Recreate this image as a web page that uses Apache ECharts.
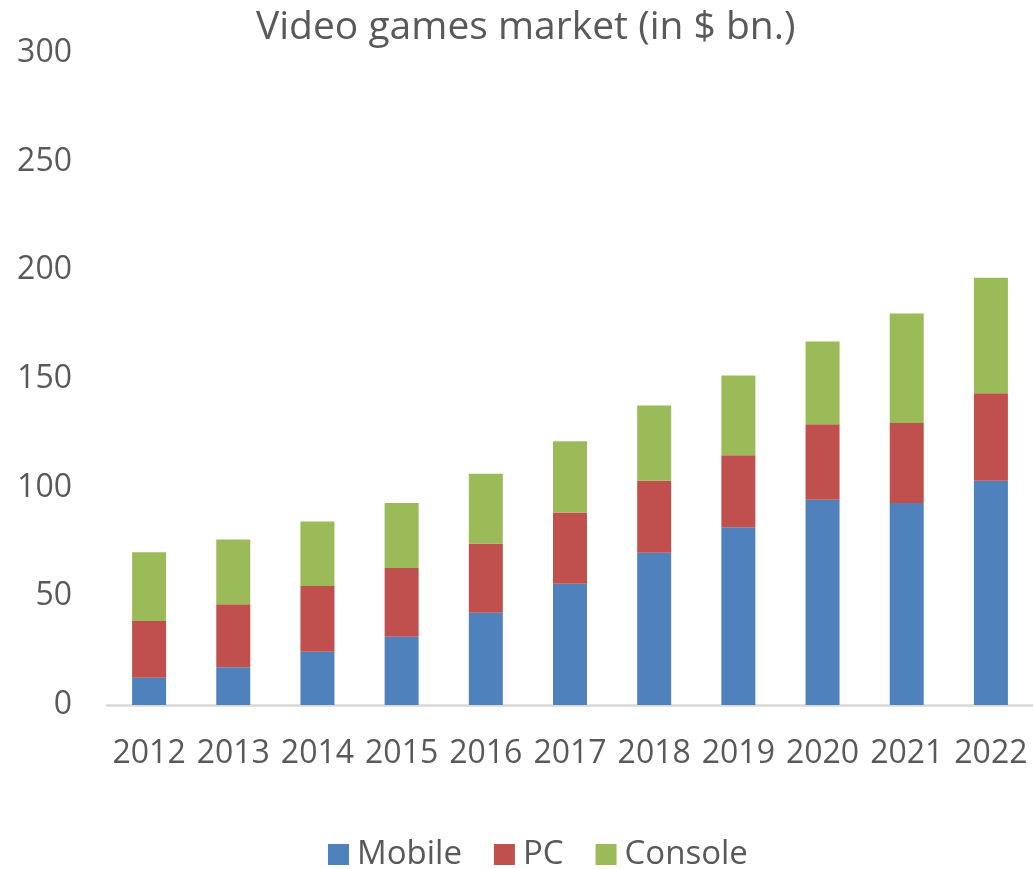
<!DOCTYPE html>
<html>
<head>
<meta charset="utf-8">
<script src="https://cdn.jsdelivr.net/npm/echarts@6/dist/echarts.min.js"></script>
<style>
  html, body { margin: 0; padding: 0; background: #ffffff; }
  #chart { width: 1033px; height: 869px; }
</style>
</head>
<body>
<div id="chart"></div>
<script>
// Video games market revenue by platform, $ bn.
const years = ['2012', '2013', '2014', '2015', '2016', '2017', '2018', '2019', '2020', '2021', '2022'];
const mobile = [12.5, 17.4, 24.5, 31.4, 42.4, 55.8, 70.0, 81.8, 94.4, 92.9, 103.2];
const pc = [26.1, 29.0, 30.3, 31.6, 31.9, 32.8, 33.2, 33.1, 34.8, 36.8, 40.3];
const consoleGames = [31.7, 29.8, 29.6, 30.0, 32.1, 32.8, 34.6, 36.7, 38.1, 50.4, 53.1];
const yTicks = { min: 0, max: 300, interval: 50 };

const fontFamily = '"Open Sans", "Noto Sans", sans-serif';
const textColor = '#595959';

const chart = echarts.init(document.getElementById('chart'), null, { renderer: 'canvas' });

function barSeries(name, data, color) {
  return {
    name: name,
    type: 'bar',
    stack: 'total',
    data: data,
    barWidth: 34,
    itemStyle: { color: color },
    emphasis: { disabled: true }
  };
}

chart.setOption({
  animation: false,
  backgroundColor: '#ffffff',
  title: {
    text: 'Video games market (in $ bn.)',
    left: 256,
    top: 8,
    padding: 0,
    textStyle: { fontFamily: fontFamily, fontSize: 39, fontWeight: 'normal', color: textColor }
  },
  legend: {
    left: 328,
    top: 838,
    padding: 0,
    icon: 'rect',
    itemWidth: 21,
    itemHeight: 21,
    itemGap: 32,
    textStyle: { fontFamily: fontFamily, fontSize: 33, color: textColor, padding: [0, 0, 0, 3] },
    data: ['Mobile', 'PC', 'Console']
  },
  grid: { left: 107, right: 0, top: 53, bottom: 164, containLabel: false },
  xAxis: {
    type: 'category',
    data: years,
    axisLine: { show: true, lineStyle: { color: '#d9d9d9', width: 2.5 } },
    axisTick: { show: false },
    axisLabel: { interval: 0, fontFamily: fontFamily, fontSize: 32, color: textColor, margin: 33 }
  },
  yAxis: {
    type: 'value',
    min: yTicks.min,
    max: yTicks.max,
    interval: yTicks.interval,
    axisLine: { show: false },
    axisTick: { show: false },
    splitLine: { show: false },
    axisLabel: { fontFamily: fontFamily, fontSize: 32, color: textColor, margin: 35, padding: [4, 0, 0, 0] }
  },
  series: [
    barSeries('Mobile', mobile, '#4f81bd'),
    barSeries('PC', pc, '#c0504d'),
    barSeries('Console', consoleGames, '#9bbb59')
  ]
});
</script>
</body>
</html>
